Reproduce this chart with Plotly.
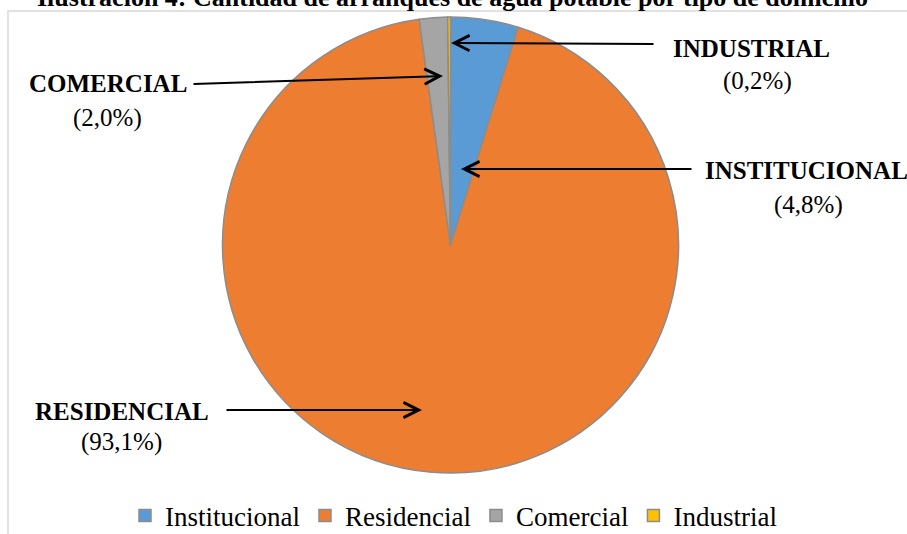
import plotly.graph_objects as go

# Connections by premise type (share of total, %)
categories = ["Institucional", "Residencial", "Comercial", "Industrial"]
values = [4.8, 93.1, 2.0, 0.2]
callout_names = ["INSTITUCIONAL", "RESIDENCIAL", "COMERCIAL", "INDUSTRIAL"]
colors = ["#5B9BD5", "#ED7D31", "#A5A5A5", "#FFC000"]
title_text = "Ilustración 4: Cantidad de arranques de agua potable por tipo de domicilio"

W, H = 907, 534
SERIF = "Liberation Serif, Times New Roman, serif"


def px(x):
    return x / W


def py(y):
    return 1 - y / H


def pct(v):
    return "(" + f"{v:.1f}".replace(".", ",") + "%)"


fig = go.Figure(
    go.Pie(
        labels=categories,
        values=values,
        sort=False,
        direction="clockwise",
        rotation=0,
        textinfo="none",
        marker=dict(colors=colors, line=dict(color="#8C8C8C", width=1.5)),
        domain=dict(x=[px(222), px(679)], y=[py(473), py(17)]),
    )
)

annotations = []

# Callout blocks: name line, percent line, arrow head and tail (pixels)
callouts = {
    "INDUSTRIAL": dict(name=(751, 48, "center"), val=(757, 81), head=(451, 43), tail=(655, 44)),
    "COMERCIAL": dict(name=(108, 84, "center"), val=(107, 118), head=(443, 76), tail=(192, 84)),
    "INSTITUCIONAL": dict(name=(703, 170, "left"), val=(808, 205), head=(461, 169), tail=(693, 169)),
    "RESIDENCIAL": dict(name=(122, 411, "center"), val=(121, 442), head=(422, 410), tail=(225, 410)),
}

for name, v in zip(callout_names, values):
    c = callouts[name]
    nx, ny, anchor = c["name"]
    annotations.append(dict(
        x=px(nx), y=py(ny), xref="paper", yref="paper", xanchor=anchor, yanchor="middle",
        text=f"<b>{name}</b>", showarrow=False,
        font=dict(family=SERIF, size=25, color="black"),
    ))
    vx, vy = c["val"]
    annotations.append(dict(
        x=px(vx), y=py(vy), xref="paper", yref="paper", xanchor="center", yanchor="middle",
        text=pct(v), showarrow=False,
        font=dict(family=SERIF, size=25, color="black"),
    ))
    hx, hy = c["head"]
    tx, ty = c["tail"]
    annotations.append(dict(
        x=px(hx), y=py(hy), xref="paper", yref="paper", text="",
        showarrow=True, arrowhead=5, arrowsize=1.5, arrowwidth=2, arrowcolor="black",
        ax=tx - hx, ay=ty - hy, standoff=0,
    ))

# Title, partly above the top edge
annotations.append(dict(
    x=px(452), y=py(-2), xref="paper", yref="paper", xanchor="center", yanchor="middle",
    text=f"<b>{title_text}</b>", showarrow=False,
    font=dict(family=SERIF, size=26, color="black"),
))

fig.update_layout(
    width=W,
    height=H,
    margin=dict(l=0, r=0, t=0, b=0, autoexpand=False),
    paper_bgcolor="white",
    plot_bgcolor="white",
    annotations=annotations,
    showlegend=True,
    legend=dict(
        orientation="h",
        x=0.5, xanchor="center",
        y=py(516), yanchor="middle",
        font=dict(family=SERIF, size=27, color="black"),
        itemclick=False,
    ),
    shapes=[dict(
        type="rect", xref="paper", yref="paper",
        x0=px(8), x1=1.02, y0=-0.02, y1=py(11),
        line=dict(color="#D9D9D9", width=1.5), layer="below",
    )],
)

fig.write_html("out.html")
